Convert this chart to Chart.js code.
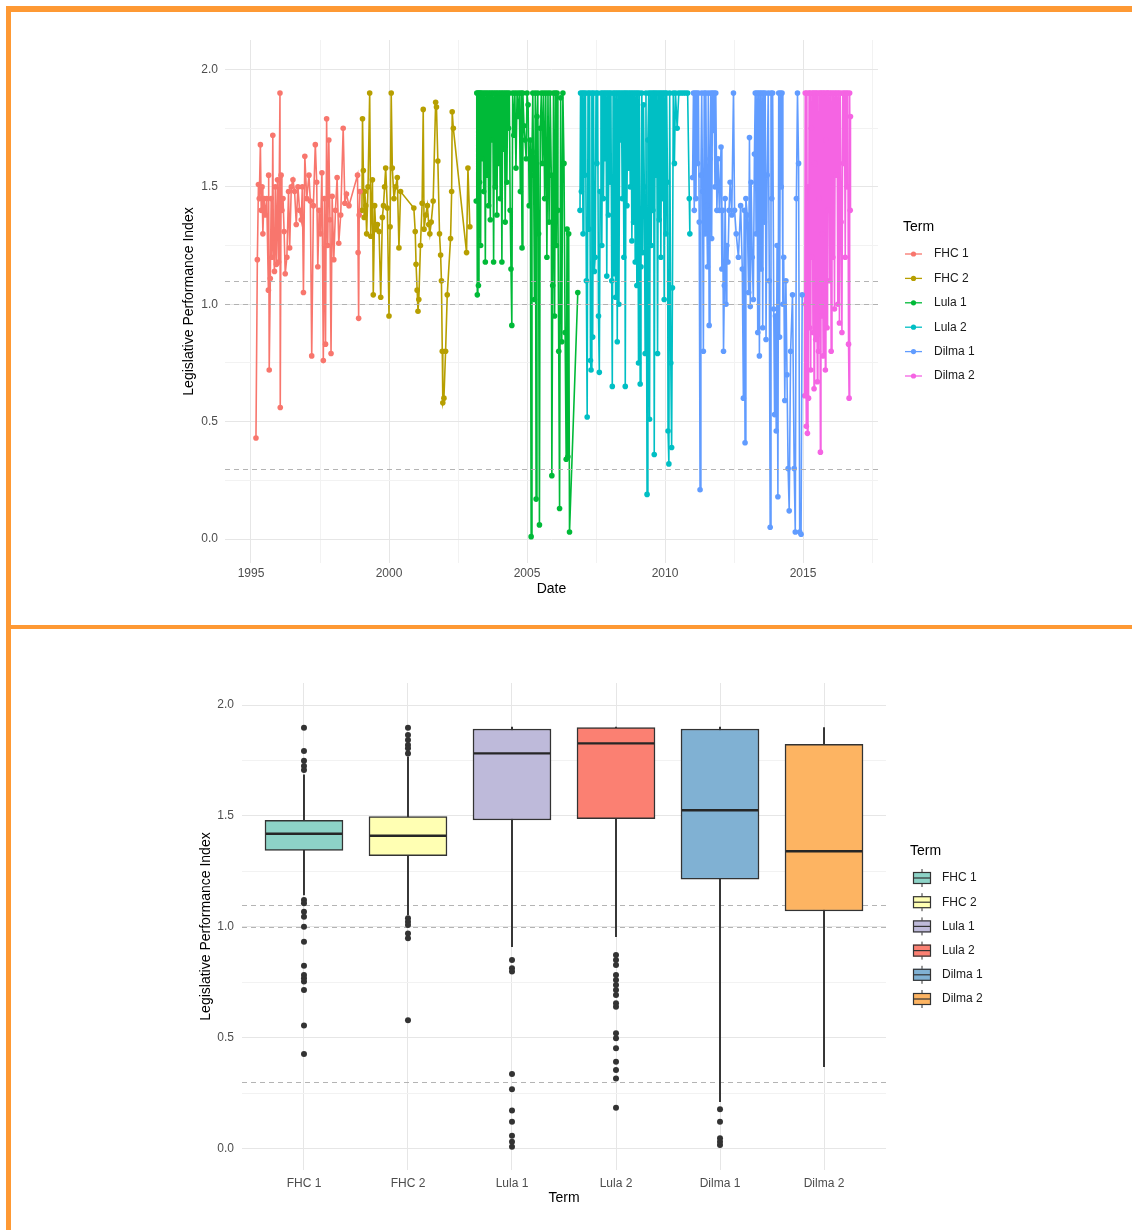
<!DOCTYPE html>
<html>
<head>
<meta charset="utf-8">
<script src="https://cdn.jsdelivr.net/npm/chart.js@4.4.1/dist/chart.umd.min.js"></script>
<style>
body { margin: 0; background: #fff; width: 1132px; height: 1230px; position: relative; overflow: hidden; }
canvas { position: absolute; }
#lineChart { left: 10px; top: 12px; }
#boxChart { left: 10px; top: 630px; }
.bar { position: absolute; background: #FE9934; }
</style>
</head>
<body>
<canvas id="lineChart" width="1122" height="612"></canvas>
<canvas id="boxChart" width="1122" height="600"></canvas>
<div class="bar" style="left:6px;top:6px;width:1126px;height:6px"></div>
<div class="bar" style="left:6px;top:6px;width:5px;height:1224px"></div>
<div class="bar" style="left:6px;top:625px;width:1126px;height:4px"></div>
<script>
// ---- data: [decimal year, index] ----
const fhc1 = [[1995.18,0.43],[1995.23,1.19],[1995.27,1.51],[1995.30,1.45],[1995.34,1.68],[1995.37,1.40],[1995.40,1.50],[1995.43,1.30],
  [1995.47,1.45],[1995.52,1.38],[1995.57,1.45],[1995.63,1.06],[1995.64,1.55],[1995.66,0.72],[1995.70,1.11],[1995.73,1.45],
  [1995.76,1.20],[1995.79,1.72],[1995.81,1.26],[1995.85,1.14],[1995.88,1.50],[1995.92,1.17],[1995.96,1.53],[1996.00,1.18],
  [1996.05,1.90],[1996.06,0.56],[1996.09,1.55],[1996.12,1.40],[1996.16,1.45],[1996.20,1.31],[1996.24,1.13],[1996.30,1.20],
  [1996.36,1.48],[1996.40,1.24],[1996.46,1.50],[1996.52,1.53],[1996.58,1.48],[1996.64,1.34],[1996.70,1.50],[1996.76,1.40],
  [1996.82,1.36],[1996.86,1.50],[1996.90,1.05],[1996.95,1.63],[1997.02,1.45],[1997.10,1.55],[1997.15,1.44],[1997.20,0.78],
  [1997.26,1.42],[1997.33,1.68],[1997.38,1.52],[1997.42,1.16],[1997.47,1.40],[1997.52,1.30],[1997.57,1.56],[1997.62,0.76],
  [1997.66,1.45],[1997.70,0.83],[1997.74,1.79],[1997.78,1.25],[1997.82,1.70],[1997.86,1.36],[1997.90,0.79],[1997.94,1.46],
  [1998.00,1.19],[1998.06,1.40],[1998.12,1.54],[1998.18,1.26],[1998.25,1.38],[1998.34,1.75],[1998.40,1.43],[1998.46,1.47],
  [1998.55,1.42],[1998.86,1.55],[1998.88,1.22],[1998.90,0.94],[1998.92,1.38],[1998.95,1.48]];
const fhc2 = [[1999.02,1.40],[1999.04,1.79],[1999.07,1.57],[1999.10,1.37],[1999.12,1.48],[1999.16,1.42],[1999.19,1.30],
  [1999.24,1.50],[1999.30,1.90],[1999.34,1.29],[1999.40,1.53],[1999.43,1.04],[1999.48,1.42],[1999.52,1.32],[1999.58,1.34],
  [1999.64,1.31],[1999.70,1.03],[1999.76,1.37],[1999.80,1.42],[1999.84,1.50],[1999.88,1.58],[1999.94,1.41],[2000.00,0.95],
  [2000.04,1.33],[2000.08,1.90],[2000.12,1.58],[2000.18,1.45],[2000.24,1.50],[2000.30,1.54],[2000.36,1.24],[2000.42,1.48],
  [2000.90,1.41],[2000.95,1.31],[2000.98,1.17],[2001.02,1.06],[2001.05,0.97],[2001.08,1.02],[2001.14,1.25],[2001.20,1.43],
  [2001.24,1.83],[2001.27,1.32],[2001.33,1.38],[2001.39,1.42],[2001.44,1.34],[2001.48,1.30],[2001.53,1.35],[2001.60,1.44],
  [2001.69,1.86],[2001.72,1.84],[2001.77,1.61],[2001.83,1.30],[2001.87,1.21],[2001.90,1.10],[2001.93,0.80],[2001.95,0.58],
  [2001.99,0.60],[2002.05,0.80],[2002.11,1.04],[2002.23,1.28],[2002.27,1.48],[2002.29,1.82],[2002.33,1.75],[2002.81,1.22],
  [2002.86,1.58],[2002.93,1.33]];
const lula1 = [[2003.16,1.44],[2003.18,1.90],[2003.20,1.04],[2003.22,1.90],[2003.24,1.08],[2003.26,1.90],[2003.28,1.52],
  [2003.30,1.90],[2003.32,1.25],[2003.34,1.90],[2003.37,1.62],[2003.40,1.90],[2003.43,1.48],[2003.46,1.90],[2003.49,1.18],
  [2003.52,1.90],[2003.55,1.55],[2003.58,1.90],[2003.61,1.42],[2003.64,1.90],[2003.67,1.36],[2003.70,1.90],[2003.73,1.70],
  [2003.76,1.90],[2003.79,1.18],[2003.82,1.90],[2003.85,1.50],[2003.88,1.90],[2003.91,1.38],[2003.94,1.90],[2003.97,1.60],
  [2004.00,1.90],[2004.03,1.45],[2004.06,1.90],[2004.09,1.18],[2004.12,1.90],[2004.15,1.66],[2004.18,1.90],[2004.21,1.35],
  [2004.24,1.90],[2004.27,1.52],[2004.30,1.90],[2004.33,1.75],[2004.36,1.90],[2004.39,1.40],[2004.42,1.15],[2004.45,0.91],
  [2004.48,1.90],[2004.52,1.72],[2004.56,1.90],[2004.60,1.58],[2004.64,1.90],[2004.68,1.80],[2004.72,1.90],[2004.76,1.48],
  [2004.79,1.90],[2004.82,1.24],[2004.85,1.90],[2004.89,1.76],[2004.93,1.70],[2004.97,1.62],[2005.00,1.90],[2005.04,1.85],
  [2005.08,1.42],[2005.12,1.70],[2005.15,0.01],[2005.18,1.65],[2005.21,1.90],[2005.24,1.55],[2005.27,1.02],[2005.30,1.90],
  [2005.33,0.17],[2005.36,1.80],[2005.39,1.90],[2005.42,1.30],[2005.45,0.06],[2005.48,1.75],[2005.52,1.90],[2005.56,1.60],
  [2005.60,1.90],[2005.64,1.45],[2005.68,1.90],[2005.72,1.20],[2005.76,1.90],[2005.80,1.35],[2005.84,1.90],[2005.88,1.55],
  [2005.90,0.27],[2005.93,1.08],[2005.96,1.90],[2006.00,0.95],[2006.03,1.90],[2006.06,1.25],[2006.09,1.90],[2006.12,1.40],
  [2006.15,0.80],[2006.18,0.13],[2006.22,1.88],[2006.26,0.84],[2006.30,1.90],[2006.34,1.60],[2006.38,0.88],[2006.42,0.34],
  [2006.45,1.32],[2006.48,0.35],[2006.51,1.30],[2006.54,0.03],[2006.84,1.05]];
const lula2 = [[2006.92,1.40],[2006.94,1.90],[2006.97,1.48],[2007.00,1.90],[2007.03,1.30],[2007.06,1.90],[2007.09,1.55],
  [2007.12,1.90],[2007.15,1.10],[2007.18,0.52],[2007.21,1.90],[2007.24,1.32],[2007.27,1.90],[2007.30,0.76],[2007.32,0.72],
  [2007.35,1.90],[2007.38,0.86],[2007.41,1.90],[2007.44,1.14],[2007.47,1.20],[2007.50,1.90],[2007.53,1.60],[2007.56,1.90],
  [2007.59,0.95],[2007.62,0.71],[2007.65,1.48],[2007.68,1.90],[2007.71,1.25],[2007.74,1.90],[2007.77,1.45],[2007.80,1.90],
  [2007.83,1.62],[2007.86,1.90],[2007.89,1.12],[2007.92,1.90],[2007.95,1.38],[2007.98,1.90],[2008.01,1.52],[2008.04,1.90],
  [2008.07,1.10],[2008.09,0.65],[2008.12,1.90],[2008.15,1.13],[2008.18,1.90],[2008.21,1.03],[2008.24,1.90],[2008.27,0.84],
  [2008.30,1.90],[2008.33,1.00],[2008.36,1.90],[2008.39,1.70],[2008.42,1.90],[2008.45,1.45],[2008.48,1.90],[2008.51,1.20],
  [2008.54,1.90],[2008.56,0.65],[2008.59,1.90],[2008.62,1.42],[2008.65,1.90],[2008.68,1.58],[2008.71,1.90],[2008.74,1.50],
  [2008.77,1.90],[2008.80,1.27],[2008.83,1.90],[2008.86,1.35],[2008.89,1.90],[2008.92,1.18],[2008.95,1.90],[2008.98,1.08],
  [2009.01,1.90],[2009.04,0.75],[2009.07,1.90],[2009.10,0.66],[2009.13,1.16],[2009.16,1.90],[2009.19,1.22],[2009.22,1.85],
  [2009.25,1.50],[2009.28,0.79],[2009.31,1.90],[2009.35,0.19],[2009.38,1.70],[2009.41,1.90],[2009.44,0.51],[2009.47,1.90],
  [2009.50,1.25],[2009.53,1.90],[2009.56,1.40],[2009.59,1.90],[2009.61,0.36],[2009.64,1.90],[2009.67,1.55],[2009.70,1.90],
  [2009.73,0.79],[2009.76,1.90],[2009.79,1.36],[2009.82,1.90],[2009.85,1.20],[2009.88,1.90],[2009.91,1.45],[2009.94,1.90],
  [2009.97,1.02],[2010.00,1.90],[2010.03,1.30],[2010.06,1.90],[2010.09,1.52],[2010.11,0.46],[2010.14,0.32],[2010.17,1.90],
  [2010.21,0.75],[2010.24,0.39],[2010.27,1.07],[2010.30,1.90],[2010.34,1.60],[2010.38,1.90],[2010.44,1.75],[2010.50,1.90],
  [2010.58,1.90],[2010.66,1.90],[2010.74,1.90],[2010.82,1.90],[2010.88,1.45],[2010.90,1.30]];
const dilma1 = [[2011.00,1.54],[2011.03,1.90],[2011.06,1.40],[2011.09,1.90],[2011.12,1.45],[2011.15,1.90],[2011.18,1.60],
  [2011.21,1.90],[2011.24,1.35],[2011.27,0.21],[2011.30,1.55],[2011.33,1.90],[2011.36,1.48],[2011.39,0.80],[2011.42,1.90],
  [2011.45,1.30],[2011.48,1.90],[2011.51,1.42],[2011.54,1.16],[2011.57,1.90],[2011.60,0.91],[2011.63,1.62],[2011.66,1.90],
  [2011.69,1.28],[2011.72,1.90],[2011.75,1.74],[2011.78,1.90],[2011.81,1.50],[2011.84,1.90],[2011.88,1.40],[2011.92,1.62],
  [2011.97,1.40],[2012.03,1.67],[2012.06,1.15],[2012.09,1.40],[2012.12,0.80],[2012.15,1.08],[2012.18,1.45],[2012.21,1.00],
  [2012.24,1.25],[2012.28,1.18],[2012.32,1.40],[2012.36,1.52],[2012.42,1.38],[2012.48,1.90],[2012.52,1.40],[2012.58,1.30],
  [2012.66,1.20],[2012.74,1.42],[2012.80,1.15],[2012.84,0.60],[2012.87,1.40],[2012.90,0.41],[2012.93,1.45],[2012.98,1.38],
  [2013.03,1.05],[2013.06,1.71],[2013.09,0.99],[2013.12,1.52],[2013.16,1.20],[2013.20,1.02],[2013.24,1.64],[2013.27,1.90],
  [2013.30,1.30],[2013.33,1.90],[2013.36,0.88],[2013.39,1.90],[2013.42,0.78],[2013.45,1.90],[2013.48,1.15],[2013.51,1.90],
  [2013.54,0.90],[2013.57,1.90],[2013.60,1.35],[2013.63,1.90],[2013.66,0.85],[2013.70,1.55],[2013.74,1.90],[2013.78,1.10],
  [2013.81,0.05],[2013.84,1.90],[2013.87,1.45],[2013.90,1.90],[2013.94,0.98],[2013.97,0.53],[2014.00,0.95],[2014.03,0.46],
  [2014.06,1.25],[2014.09,0.18],[2014.12,1.90],[2014.15,0.86],[2014.18,1.90],[2014.21,1.50],[2014.24,1.90],[2014.27,1.00],
  [2014.30,1.20],[2014.34,0.59],[2014.38,1.10],[2014.42,0.70],[2014.46,0.30],[2014.50,0.12],[2014.55,0.80],[2014.62,1.04],
  [2014.68,0.30],[2014.72,0.03],[2014.76,1.45],[2014.80,1.90],[2014.84,1.60],[2014.88,0.03],[2014.93,0.02],[2014.97,1.04]];
const dilma2 = [[2015.06,0.61],[2015.08,1.90],[2015.10,1.00],[2015.12,0.48],[2015.14,1.90],[2015.16,0.45],[2015.18,1.50],
  [2015.20,0.60],[2015.22,1.90],[2015.24,0.90],[2015.26,1.90],[2015.28,0.72],[2015.30,1.75],[2015.32,1.20],[2015.34,1.90],
  [2015.36,0.88],[2015.38,1.90],[2015.40,0.64],[2015.42,1.60],[2015.44,1.90],[2015.46,0.85],[2015.48,1.90],[2015.50,1.10],
  [2015.52,0.67],[2015.54,1.90],[2015.56,0.80],[2015.58,1.45],[2015.60,1.90],[2015.63,0.37],[2015.65,1.90],[2015.67,0.95],
  [2015.69,1.90],[2015.71,1.30],[2015.73,0.78],[2015.75,1.90],[2015.77,1.05],[2015.79,1.90],[2015.81,0.72],[2015.83,1.70],
  [2015.85,1.90],[2015.87,0.90],[2015.89,1.90],[2015.91,1.40],[2015.93,1.90],[2015.96,1.10],[2015.99,1.90],[2016.02,0.80],
  [2016.05,1.90],[2016.08,1.20],[2016.11,1.90],[2016.14,0.98],[2016.17,1.90],[2016.20,1.55],[2016.23,1.90],[2016.26,1.00],
  [2016.29,1.90],[2016.32,0.92],[2016.35,1.90],[2016.38,1.35],[2016.41,0.88],[2016.44,1.90],[2016.47,1.60],[2016.50,1.90],
  [2016.53,1.20],[2016.56,1.90],[2016.59,1.50],[2016.62,1.90],[2016.65,0.83],[2016.67,0.60],[2016.69,1.90],[2016.71,1.40],
  [2016.72,1.80]];

const terms = ['FHC 1', 'FHC 2', 'Lula 1', 'Lula 2', 'Dilma 1', 'Dilma 2'];
const series = [fhc1, fhc2, lula1, lula2, dilma1, dilma2];
const lineColors = ['#F8766D', '#B79F00', '#00BA38', '#00BFC4', '#619CFF', '#F564E3'];
const boxColors = ['#8DD3C7', '#FFFFB3', '#BEBADA', '#FB8072', '#80B1D3', '#FDB462'];

// box plot stats per term
const whiskerLow  = [1.144, 1.054, 0.911, 0.956, 0.213, 0.371];
const q1          = [1.345, 1.321, 1.482, 1.488, 1.215, 1.072];
const median      = [1.420, 1.411, 1.782, 1.827, 1.526, 1.341];
const q3          = [1.480, 1.497, 1.892, 1.898, 1.892, 1.823];
const whiskerHigh = [1.685, 1.767, 1.900, 1.900, 1.900, 1.898];
const outliers = [
  [1.898, 1.793, 1.749, 1.725, 1.707, 1.122, 1.107, 1.069, 1.046, 1.001, 0.934, 0.826, 0.784, 0.769, 0.754, 0.716, 0.556, 0.428],
  [1.898, 1.865, 1.842, 1.820, 1.805, 1.782, 1.039, 1.024, 1.009, 0.971, 0.949, 0.580],
  [0.851, 0.814, 0.799, 0.338, 0.269, 0.173, 0.123, 0.060, 0.033, 0.010],
  [0.874, 0.851, 0.829, 0.784, 0.761, 0.739, 0.716, 0.694, 0.656, 0.641, 0.521, 0.499, 0.454, 0.393, 0.356, 0.318, 0.186],
  [0.179, 0.123, 0.048, 0.033, 0.018],
  []
];

const refLines = [0.3, 1.0, 1.1];
const yMajor = [0, 0.5, 1, 1.5, 2];
const yMinor = [0.25, 0.75, 1.25, 1.75];
const yearMajor = [1995, 2000, 2005, 2010, 2015];
const yearMinor = [1997.5, 2002.5, 2007.5, 2012.5, 2017.5];

const FONT = '"Liberation Sans", Arial, sans-serif';
Chart.defaults.font.family = FONT;
Chart.defaults.color = '#4D4D4D';

function tickList(major, minor) {
  return function(scale) {
    scale.ticks = major.map(v => ({value: v, minor: false}))
      .concat(minor.map(v => ({value: v, minor: true})))
      .sort((a, b) => a.value - b.value);
  };
}
const gridColor = c => (c.tick && c.tick.minor) ? '#F2F2F2' : '#E6E6E6';

function drawRefLines(chart) {
  const {ctx, chartArea, scales} = chart;
  ctx.save();
  ctx.strokeStyle = '#ABABAB';
  ctx.lineWidth = 0.9;
  ctx.setLineDash([5, 4]);
  refLines.forEach(v => {
    const y = Math.round(scales.y.getPixelForValue(v)) + 0.5;
    ctx.beginPath();
    ctx.moveTo(chartArea.left, y);
    ctx.lineTo(chartArea.right, y);
    ctx.stroke();
  });
  ctx.restore();
}

// ---------- top: time series ----------
new Chart(document.getElementById('lineChart'), {
  type: 'line',
  data: {
    datasets: series.map((d, i) => ({
      label: terms[i],
      data: d,
      borderColor: lineColors[i],
      backgroundColor: lineColors[i],
      borderWidth: 1.6,
      pointRadius: 2.8,
      pointBorderWidth: 0,
      tension: 0
    }))
  },
  options: {
    responsive: false,
    animation: false,
    devicePixelRatio: 1,
    layout: {padding: {left: 171, right: 254, top: 28, bottom: 21}},
    plugins: {legend: {display: false}, tooltip: {enabled: false}},
    scales: {
      x: {
        type: 'linear', min: 1994.058, max: 2017.717,
        afterBuildTicks: tickList(yearMajor, yearMinor),
        afterFit: s => { s.height = 40; },
        border: {display: false},
        grid: {color: gridColor, drawTicks: false},
        ticks: {autoSkip: false, maxRotation: 0, padding: 3, font: {size: 12},
          callback: (v, i, t) => t[i].minor ? '' : String(v)},
        title: {display: true, text: 'Date', color: '#000', font: {size: 14}, padding: {top: 0, bottom: 5}}
      },
      y: {
        min: -0.1022, max: 2.1257,
        afterBuildTicks: tickList(yMajor, yMinor),
        afterFit: s => { s.width = 44; },
        border: {display: false},
        grid: {color: gridColor, drawTicks: false},
        ticks: {autoSkip: false, padding: 7, font: {size: 12},
          callback: (v, i, t) => t[i].minor ? '' : v.toFixed(1)},
        title: {display: true, text: 'Legislative Performance Index', color: '#000', font: {size: 14}, padding: {top: 0, bottom: 0}}
      }
    }
  },
  plugins: [{
    id: 'extras',
    afterDatasetsDraw(chart) { drawRefLines(chart); },
    afterDraw(chart) {
      const ctx = chart.ctx;
      const x0 = chart.chartArea.right + 25;
      ctx.save();
      ctx.textBaseline = 'middle';
      ctx.fillStyle = '#000';
      ctx.font = '14px ' + FONT;
      ctx.fillText('Term', x0, 215);
      ctx.font = '12px ' + FONT;
      chart.data.datasets.forEach((ds, i) => {
        const y = 242 + i * 24.4;
        ctx.strokeStyle = ds.borderColor;
        ctx.lineWidth = 1.3;
        ctx.beginPath(); ctx.moveTo(x0 + 2, y); ctx.lineTo(x0 + 19, y); ctx.stroke();
        ctx.fillStyle = ds.borderColor;
        ctx.beginPath(); ctx.arc(x0 + 10.5, y, 2.6, 0, Math.PI * 2); ctx.fill();
        ctx.fillStyle = '#1A1A1A';
        ctx.fillText(ds.label, x0 + 31, y);
      });
      ctx.restore();
    }
  }]
});

// ---------- bottom: box plot ----------
const idx = terms.map((t, i) => i);
new Chart(document.getElementById('boxChart'), {
  type: 'bar',
  data: {
    datasets: [
      {
        label: 'whiskers',
        data: idx.map(i => ({x: i, y: [whiskerLow[i], whiskerHigh[i]]})),
        backgroundColor: '#333333',
        barThickness: 1.3,
        grouped: false,
        order: 3
      },
      {
        label: 'boxes',
        data: idx.map(i => ({x: i, y: [q1[i], q3[i]]})),
        backgroundColor: boxColors,
        borderColor: '#333333',
        borderWidth: 1.5,
        borderSkipped: false,
        barThickness: 78,
        grouped: false,
        order: 2
      },
      {
        type: 'scatter',
        label: 'outliers',
        data: outliers.flatMap((arr, i) => arr.map(v => ({x: i, y: v}))),
        backgroundColor: '#333333',
        pointRadius: 3,
        pointBorderWidth: 0,
        order: 1
      }
    ]
  },
  options: {
    responsive: false,
    animation: false,
    devicePixelRatio: 1,
    layout: {padding: {left: 188, right: 246, top: 53, bottom: 15}},
    plugins: {legend: {display: false}, tooltip: {enabled: false}},
    scales: {
      x: {
        type: 'linear', min: -0.596, max: 5.596, offset: false,
        afterBuildTicks: tickList(idx, []),
        afterFit: s => { s.height = 45; },
        border: {display: false},
        grid: {color: gridColor, drawTicks: false, offset: false},
        ticks: {autoSkip: false, maxRotation: 0, padding: 6, font: {size: 12},
          callback: v => terms[v]},
        title: {display: true, text: 'Term', color: '#000', font: {size: 14}, padding: {top: 0, bottom: 8}}
      },
      y: {
        min: -0.0946, max: 2.0991,
        afterBuildTicks: tickList(yMajor, yMinor),
        afterFit: s => { s.width = 44; },
        border: {display: false},
        grid: {color: gridColor, drawTicks: false},
        ticks: {autoSkip: false, padding: 8, font: {size: 12},
          callback: (v, i, t) => t[i].minor ? '' : v.toFixed(1)},
        title: {display: true, text: 'Legislative Performance Index', color: '#000', font: {size: 14}, padding: {top: 0, bottom: 0}}
      }
    }
  },
  plugins: [{
    id: 'boxExtras',
    beforeDatasetsDraw(chart) { drawRefLines(chart); },
    afterDatasetsDraw(chart) {
      const ctx = chart.ctx;
      const meta = chart.getDatasetMeta(1);
      ctx.save();
      ctx.strokeStyle = '#262626';
      ctx.lineWidth = 2.4;
      meta.data.forEach((bar, i) => {
        const y = chart.scales.y.getPixelForValue(median[i]);
        ctx.beginPath();
        ctx.moveTo(bar.x - bar.width / 2 + 1, y);
        ctx.lineTo(bar.x + bar.width / 2 - 1, y);
        ctx.stroke();
      });
      ctx.restore();
    },
    afterDraw(chart) {
      const ctx = chart.ctx;
      const x0 = chart.chartArea.right + 24;
      ctx.save();
      ctx.textBaseline = 'middle';
      ctx.fillStyle = '#000';
      ctx.font = '14px ' + FONT;
      ctx.fillText('Term', x0, 221);
      ctx.font = '12px ' + FONT;
      terms.forEach((t, i) => {
        const y = 248 + i * 24.2;
        ctx.strokeStyle = '#333333';
        ctx.lineWidth = 1;
        ctx.beginPath(); ctx.moveTo(x0 + 12, y - 9); ctx.lineTo(x0 + 12, y + 9); ctx.stroke();
        ctx.fillStyle = boxColors[i];
        ctx.fillRect(x0 + 3, y - 6, 18, 12);
        ctx.lineWidth = 1.2;
        ctx.strokeRect(x0 + 3.5, y - 5.5, 17, 11);
        ctx.beginPath(); ctx.moveTo(x0 + 3, y); ctx.lineTo(x0 + 21, y); ctx.stroke();
        ctx.fillStyle = '#1A1A1A';
        ctx.fillText(t, x0 + 32, y);
      });
      ctx.restore();
    }
  }]
});
</script>
</body>
</html>
